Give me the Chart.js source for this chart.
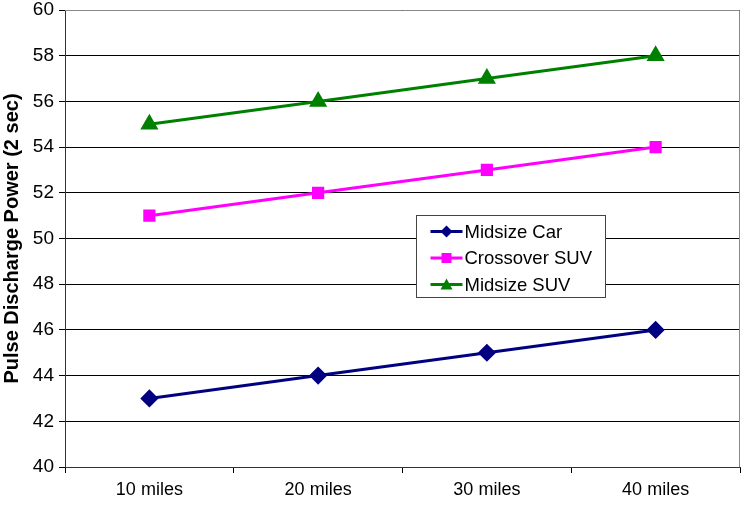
<!DOCTYPE html>
<html>
<head>
<meta charset="utf-8">
<script src="https://cdn.jsdelivr.net/npm/chart.js@4.4.1/dist/chart.umd.min.js"></script>
<style>
  body { margin: 0; background: #fff; }
  #wrap { width: 742px; height: 505px; }
</style>
</head>
<body>
<div id="wrap"><canvas id="linechart" width="742" height="505"></canvas></div>
<script>
const categories = ['10 miles', '20 miles', '30 miles', '40 miles'];
const midsizeCar = [43, 44, 45, 46];
const crossoverSUV = [51, 52, 53, 54];
const midsizeSUV = [55, 56, 57, 58];
const yTitle = 'Pulse Discharge Power (2 sec)';

const fontFam = '"Liberation Sans", Arial, sans-serif';

// border round the plot + legend box inside it
const boxPlugin = {
    id: 'boxPlugin',
    afterDraw(chart) {
        const c = chart.ctx;
        const a = chart.chartArea;
        c.save();
        c.strokeStyle = '#888';
        c.lineWidth = 1;
        c.beginPath();
        c.moveTo(a.left, a.top + 0.5);
        c.lineTo(a.right - 0.5, a.top + 0.5);
        c.lineTo(a.right - 0.5, a.bottom);
        c.stroke();

        // legend
        const lx = 416.5, ly = 215.5, lw = 189, lh = 82;
        c.fillStyle = '#fff';
        c.fillRect(lx, ly, lw, lh);
        c.strokeStyle = '#444';
        c.strokeRect(lx, ly, lw, lh);
        chart.data.datasets.forEach((ds, i) => {
            const y = ly + 16 + i * 26.5;
            c.strokeStyle = ds.borderColor;
            c.lineWidth = 3;
            c.beginPath();
            c.moveTo(lx + 14, y);
            c.lineTo(lx + 46, y);
            c.stroke();
            c.fillStyle = ds.backgroundColor;
            c.beginPath();
            const mx = lx + 30;
            if (ds.pointStyle === 'rectRot') {
                c.moveTo(mx, y - 6); c.lineTo(mx + 6, y); c.lineTo(mx, y + 6); c.lineTo(mx - 6, y);
            } else if (ds.pointStyle === 'rect') {
                c.rect(mx - 5, y - 5, 10, 10);
            } else {
                c.moveTo(mx, y - 6); c.lineTo(mx + 6, y + 5); c.lineTo(mx - 6, y + 5);
            }
            c.closePath();
            c.fill();
            c.fillStyle = '#000';
            c.font = '18.5px ' + fontFam;
            c.textBaseline = 'middle';
            c.textAlign = 'left';
            c.fillText(ds.label, lx + 48, y + 1);
        });
        c.restore();
    }
};

const ctx = document.getElementById('linechart').getContext('2d');
const linechart = new Chart(ctx, {
    type: 'line',
    data: {
        labels: categories,
        datasets: [{
            label: 'Midsize Car',
            data: midsizeCar,
            borderColor: '#000080',
            backgroundColor: '#000080',
            pointStyle: 'rectRot',
            pointRadius: 7,
            borderWidth: 3
        }, {
            label: 'Crossover SUV',
            data: crossoverSUV,
            borderColor: '#ff00ff',
            backgroundColor: '#ff00ff',
            pointStyle: 'rect',
            pointRadius: 6.5,
            borderWidth: 3
        }, {
            label: 'Midsize SUV',
            data: midsizeSUV,
            borderColor: '#008000',
            backgroundColor: '#008000',
            pointStyle: 'triangle',
            pointRadius: 7.5,
            borderWidth: 3
        }]
    },
    options: {
        responsive: false,
        animation: false,
        layout: { autoPadding: false, padding: { top: 10, right: 2, left: 0, bottom: 0 } },
        elements: { line: { tension: 0 }, point: { borderWidth: 0 } },
        plugins: {
            legend: { display: false },
            tooltip: { enabled: false }
        },
        scales: {
            x: {
                offset: true,
                afterFit: (s) => { s.height = 38; s.paddingLeft = 0; s.paddingRight = 0; },
                grid: {
                    offset: true,
                    drawOnChartArea: false,
                    color: '#000',
                    tickLength: 6
                },
                border: { color: '#333', width: 1 },
                ticks: {
                    color: '#000',
                    padding: 6,
                    font: { family: fontFam, size: 18 }
                }
            },
            y: {
                min: 40,
                max: 60,
                afterFit: (s) => { s.width = 65; s.paddingTop = 0; s.paddingBottom = 0; },
                grid: { color: '#000', tickLength: 6 },
                border: { color: '#333', width: 1 },
                ticks: {
                    stepSize: 2,
                    color: '#000',
                    padding: 5,
                    font: { family: fontFam, size: 19 }
                },
                title: {
                    display: true,
                    text: yTitle,
                    color: '#000',
                    padding: { top: 0, bottom: 0 },
                    font: { family: fontFam, size: 20, weight: 'bold' }
                }
            }
        }
    },
    plugins: [boxPlugin]
});
</script>
</body>
</html>
